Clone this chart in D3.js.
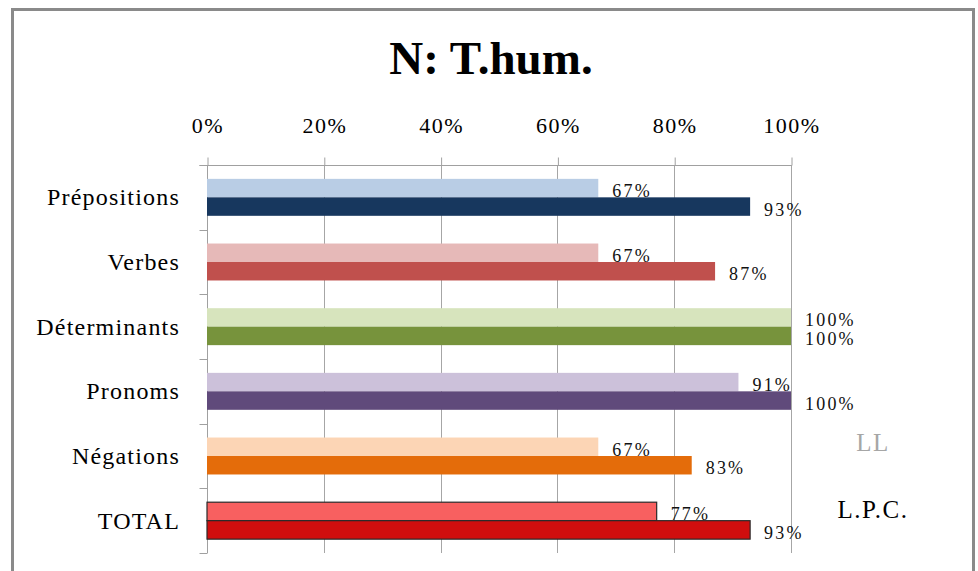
<!DOCTYPE html>
<html lang="fr">
<head>
    <meta charset="UTF-8">
    <title>N: T.hum.</title>
    <script src="https://d3js.org/d3.v7.min.js"></script>
    <style>
        body {
            margin: 0;
            background: #fff;
        }
        svg { display: block; }
        svg text { font-family: "Liberation Serif", "Times New Roman", Times, serif; }
    </style>
</head>
<body>
    <div id="chart"></div>

    <script>
        // données
        const categories = ["Prépositions", "Verbes", "Déterminants", "Pronoms", "Négations", "TOTAL"];
        const series = ["LL", "L.P.C."];
        const llValues = [0.67, 0.67, 1.00, 0.91, 0.67, 0.77];
        const lpcValues = [0.93, 0.87, 1.00, 1.00, 0.83, 0.93];
        const tickValues = [0, 0.2, 0.4, 0.6, 0.8, 1];

        const lightColors = ["#b9cde5", "#e6b9b8", "#d7e4bd", "#ccc1da", "#fcd5b5", "#f86060"];
        const darkColors = ["#17375e", "#c0504d", "#77933c", "#604a7b", "#e46c0a", "#d00e0e"];

        const width = 978;
        const height = 571;
        const serif = "'Liberation Serif', 'Times New Roman', serif";

        const svg = d3.select("#chart")
            .append("svg")
            .attr("width", width)
            .attr("height", height)
            .attr("font-family", serif);

        // cadre
        svg.append("rect")
            .attr("x", 12.5)
            .attr("y", 9.5)
            .attr("width", 961)
            .attr("height", 620)
            .attr("fill", "none")
            .attr("stroke", "#8a8a8a")
            .attr("stroke-width", 3);

        svg.append("text")
            .attr("x", 491)
            .attr("y", 74)
            .attr("text-anchor", "middle")
            .attr("font-size", 47)
            .attr("font-weight", "bold")
            .text("N: T.hum.");

        const x = d3.scaleLinear().domain([0, 1]).range([207, 791]);
        const y = d3.scaleBand().domain(categories).range([165, 553]).padding(0);
        const ySub = d3.scaleBand().domain(series).range([0, y.bandwidth()])
            .paddingInner(0).paddingOuter(0.75);

        // grille verticale
        svg.append("g")
            .selectAll("line")
            .data(tickValues)
            .join("line")
            .attr("x1", d => Math.round(x(d)) + 0.5)
            .attr("x2", d => Math.round(x(d)) + 0.5)
            .attr("y1", 165)
            .attr("y2", 553)
            .attr("stroke", "#a6a6a6");

        // axe du haut
        const xAxis = svg.append("g")
            .attr("transform", "translate(0.5,165.5)")
            .call(d3.axisTop(x).tickValues(tickValues).tickFormat(d3.format(".0%"))
                .tickSize(8).tickSizeOuter(0).tickPadding(25));
        xAxis.attr("font-family", serif);
        xAxis.select(".domain").attr("stroke", "#a0a0a0").attr("d", "M" + (x(0) - 8) + ",0H" + x(1));
        xAxis.selectAll(".tick line").attr("stroke", "#a0a0a0");
        xAxis.selectAll(".tick text")
            .attr("font-size", 22)
            .attr("letter-spacing", "1.5px")
            .attr("fill", "#000");

        // axe de gauche
        const yAxis = svg.append("g").attr("transform", "translate(207.5,0)");
        yAxis.append("line")
            .attr("y1", 165).attr("y2", 553)
            .attr("stroke", "#a0a0a0");
        yAxis.selectAll(".bound")
            .data(categories.map(c => y(c)).concat([y(categories[categories.length - 1]) + y.bandwidth()]))
            .join("line")
            .attr("x1", -8).attr("x2", 0)
            .attr("y1", d => Math.round(d) + 0.5)
            .attr("y2", d => Math.round(d) + 0.5)
            .attr("stroke", "#a0a0a0");

        svg.append("g")
            .selectAll("text")
            .data(categories)
            .join("text")
            .attr("x", 180)
            .attr("y", d => y(d) + y.bandwidth() / 2 + 8)
            .attr("text-anchor", "end")
            .attr("font-size", 24)
            .attr("letter-spacing", "1.2px")
            .text(d => d);

        // barres
        const bars = [];
        categories.forEach((c, i) => {
            bars.push({ cat: c, s: "LL", v: llValues[i], fill: lightColors[i], total: c === "TOTAL" });
            bars.push({ cat: c, s: "L.P.C.", v: lpcValues[i], fill: darkColors[i], total: c === "TOTAL" });
        });

        svg.append("g")
            .selectAll("rect")
            .data(bars)
            .join("rect")
            .attr("x", x(0))
            .attr("y", d => y(d.cat) + ySub(d.s))
            .attr("width", d => x(d.v) - x(0))
            .attr("height", ySub.bandwidth())
            .attr("fill", d => d.fill)
            .attr("stroke", d => d.total ? "#2a2a2a" : "none")
            .attr("stroke-width", 1.2);

        svg.append("g")
            .selectAll("text")
            .data(bars)
            .join("text")
            .attr("x", d => x(d.v) + 14)
            .attr("y", d => y(d.cat) + ySub(d.s) + ySub.bandwidth() / 2 + 9)
            .attr("font-size", 18)
            .attr("letter-spacing", "2.2px")
            .attr("fill", "#111")
            .text(d => d3.format(".0%")(d.v));

        // légende
        const legendColors = ["#a6a6a6", "#000"];
        svg.append("g")
            .selectAll("text")
            .data(series)
            .join("text")
            .attr("x", 873)
            .attr("y", (d, i) => 451 + i * 67)
            .attr("text-anchor", "middle")
            .attr("font-size", 25)
            .attr("letter-spacing", "1.5px")
            .attr("fill", (d, i) => legendColors[i])
            .text(d => d);
    </script>
</body>
</html>
